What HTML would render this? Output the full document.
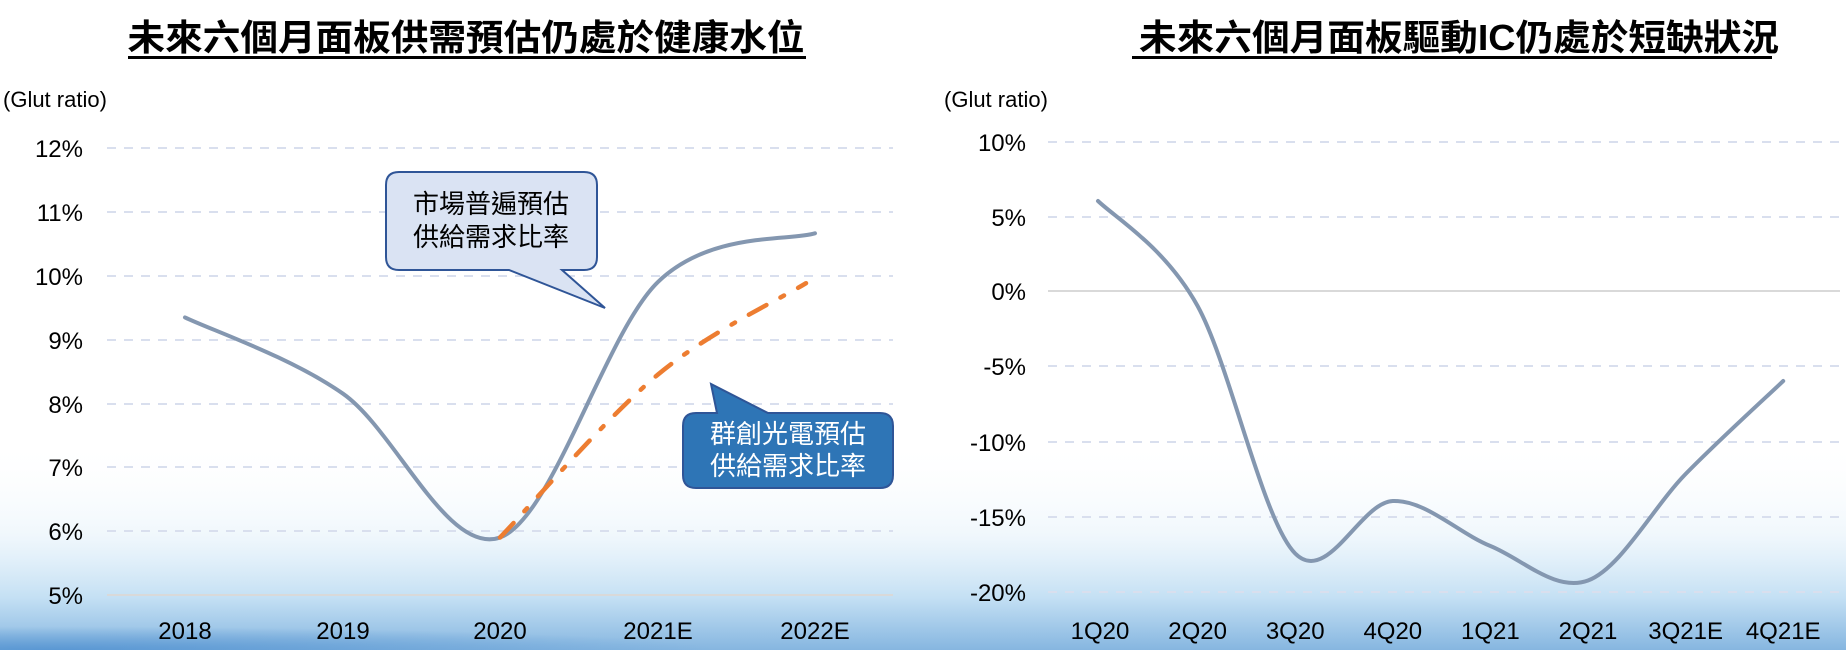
<!DOCTYPE html>
<html><head><meta charset="utf-8"><style>
html,body{margin:0;padding:0;background:#fff;}
svg{display:block;}
text{font-family:"Liberation Sans","Noto Sans CJK TC",sans-serif;}
</style></head><body>
<svg width="1846" height="650" viewBox="0 0 1846 650" xmlns="http://www.w3.org/2000/svg">
<defs>
<linearGradient id="bg" x1="0" y1="0" x2="0" y2="1">
<stop offset="0" stop-color="#ffffff" stop-opacity="0"/>
<stop offset="0.45" stop-color="#eaf4fb" stop-opacity="0.7"/>
<stop offset="0.75" stop-color="#c4e0f4"/>
<stop offset="1" stop-color="#86b6e0"/>
</linearGradient>
<radialGradient id="bl" cx="0.05" cy="1" r="0.6" gradientTransform="scale(1,0.3) translate(0,2.33)">
<stop offset="0" stop-color="#4f90d0" stop-opacity="0.8"/>
<stop offset="1" stop-color="#4f90d0" stop-opacity="0"/>
</radialGradient>
</defs>
<rect x="0" y="440" width="1846" height="210" fill="url(#bg)"/>
<rect x="0" y="520" width="1100" height="130" fill="url(#bl)"/>

<!-- LEFT CHART -->
<text x="466" y="50" font-size="36" font-weight="bold" text-anchor="middle" fill="#000" textLength="677" lengthAdjust="spacingAndGlyphs">未來六個月面板供需預估仍處於健康水位</text>
<rect x="128" y="56" width="678" height="3" fill="#000"/>
<text x="3" y="107" font-size="22" fill="#000">(Glut ratio)</text>
<g stroke="#d9dfee" stroke-width="2" stroke-dasharray="9 8">
<line x1="107" y1="148" x2="893" y2="148"/>
<line x1="107" y1="212" x2="893" y2="212"/>
<line x1="107" y1="276" x2="893" y2="276"/>
<line x1="107" y1="340" x2="893" y2="340"/>
<line x1="107" y1="404" x2="893" y2="404"/>
<line x1="107" y1="467" x2="893" y2="467"/>
<line x1="107" y1="531" x2="893" y2="531"/>
</g>
<line x1="107" y1="595" x2="893" y2="595" stroke="#d9d9d9" stroke-width="2"/>
<g font-size="24" text-anchor="end" fill="#000">
<text x="83" y="157">12%</text>
<text x="83" y="221">11%</text>
<text x="83" y="285">10%</text>
<text x="83" y="349">9%</text>
<text x="83" y="413">8%</text>
<text x="83" y="476">7%</text>
<text x="83" y="540">6%</text>
<text x="83" y="604">5%</text>
</g>
<g font-size="24" text-anchor="middle" fill="#000">
<text x="185" y="639">2018</text>
<text x="343" y="639">2019</text>
<text x="500" y="639">2020</text>
<text x="658" y="639">2021E</text>
<text x="815" y="639">2022E</text>
</g>
<path d="M185,317.4 C211.3,330.1 290.5,357 343,393.7 C395.5,430.4 447.5,556.1 500,537.5 C552.5,518.9 605.5,332.6 658,281.9 C710.5,231.2 788.8,241.4 815,233.3" fill="none" stroke="#8497b0" stroke-width="4" stroke-linecap="round"/>
<path d="M500,537.5 C526.3,510.3 607,416.9 658,374.5 C709,332.1 781.3,298.4 806,283.2" fill="none" stroke="#ed7d31" stroke-width="4.5" stroke-dasharray="20 16 4 16" stroke-linecap="round"/>
<!-- callout 1 -->
<path d="M399,172 H584 Q597,172 597,185 V257 Q597,270 584,270 H562 L605,308 L509,270 H399 Q386,270 386,257 V185 Q386,172 399,172 Z" fill="#dae3f3" stroke="#2f5597" stroke-width="2"/>
<text x="491" y="213" font-size="26" text-anchor="middle" fill="#000">市場普遍預估</text>
<text x="491" y="246" font-size="26" text-anchor="middle" fill="#000">供給需求比率</text>
<!-- callout 2 -->
<path d="M696,413 H717 L711,384 L768,413 H880 Q893,413 893,426 V475 Q893,488 880,488 H696 Q683,488 683,475 V426 Q683,413 696,413 Z" fill="#2e75b6" stroke="#2f5597" stroke-width="2"/>
<text x="788" y="443" font-size="26" text-anchor="middle" fill="#fff">群創光電預估</text>
<text x="788" y="475" font-size="26" text-anchor="middle" fill="#fff">供給需求比率</text>

<!-- RIGHT CHART -->
<text x="1459" y="50" font-size="36" font-weight="bold" text-anchor="middle" fill="#000" textLength="640" lengthAdjust="spacingAndGlyphs">未來六個月面板驅動IC仍處於短缺狀況</text>
<rect x="1132" y="56" width="640" height="3" fill="#000"/>
<text x="944" y="107" font-size="22" fill="#000">(Glut ratio)</text>
<g stroke="#d9dfee" stroke-width="2" stroke-dasharray="9 8">
<line x1="1048" y1="142" x2="1840" y2="142"/>
<line x1="1048" y1="217" x2="1840" y2="217"/>
<line x1="1048" y1="366" x2="1840" y2="366"/>
<line x1="1048" y1="442" x2="1840" y2="442"/>
<line x1="1048" y1="517" x2="1840" y2="517"/>
<line x1="1048" y1="592" x2="1840" y2="592"/>
</g>
<line x1="1048" y1="291" x2="1840" y2="291" stroke="#d9d9d9" stroke-width="2"/>
<g font-size="24" text-anchor="end" fill="#000">
<text x="1026" y="151">10%</text>
<text x="1026" y="226">5%</text>
<text x="1026" y="300">0%</text>
<text x="1026" y="375">-5%</text>
<text x="1026" y="451">-10%</text>
<text x="1026" y="526">-15%</text>
<text x="1026" y="601">-20%</text>
</g>
<g font-size="24" text-anchor="middle" fill="#000">
<text x="1100" y="639">1Q20</text>
<text x="1197.6" y="639">2Q20</text>
<text x="1295.2" y="639">3Q20</text>
<text x="1392.8" y="639">4Q20</text>
<text x="1490.4" y="639">1Q21</text>
<text x="1588" y="639">2Q21</text>
<text x="1685.6" y="639">3Q21E</text>
<text x="1783.2" y="639">4Q21E</text>
</g>
<path d="M1098,201 C1116.3,218.5 1165.1,247.25 1197.6,306 C1230.1,364.75 1262.7,521 1295.2,553.5 C1327.7,586 1360.3,502.25 1392.8,501 C1425.3,499.75 1457.9,532.75 1490.4,546 C1522.9,559.25 1555.5,592.5 1588,580.5 C1620.5,568.5 1653.1,507.25 1685.6,474 C1718.1,440.75 1766.9,396.5 1783.2,381" fill="none" stroke="#8497b0" stroke-width="4" stroke-linecap="round"/>
</svg>
</body></html>
